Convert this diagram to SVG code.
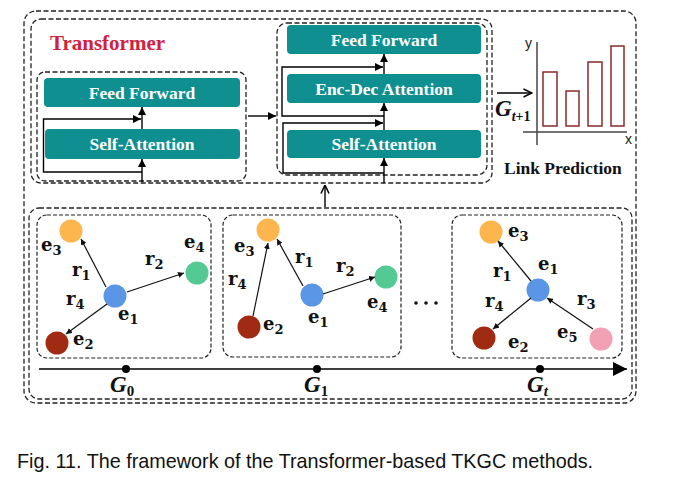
<svg xmlns="http://www.w3.org/2000/svg" width="683" height="494" viewBox="0 0 683 494">
<defs>
<style>
.dash{fill:none;stroke:#222;stroke-width:1.3;stroke-dasharray:5 2.5}
.dash2{fill:none;stroke:#222;stroke-width:1.2;stroke-dasharray:4 2}
.teal{fill:#0F8F8F}
.tt{font-family:"Liberation Serif",serif;font-weight:bold;font-size:17.5px;fill:#fff;text-anchor:middle}
.flow{fill:none;stroke:#000;stroke-width:1.4}
.edge{fill:none;stroke:#111;stroke-width:1.2}
.lab{font-family:"DejaVu Serif",serif;font-weight:bold;font-size:18px;fill:#111}
.sub{font-size:13px}
.gl{font-family:"Liberation Serif",serif;font-weight:bold;font-style:italic;font-size:23px;fill:#111}
.gs{font-style:normal;font-size:15px}
.bar{fill:#fff;stroke:#8B2A2A;stroke-width:1.5}
</style>
<marker id="ah" viewBox="0 0 10 10" refX="10" refY="5" markerWidth="8" markerHeight="8" markerUnits="userSpaceOnUse" orient="auto"><path d="M0,0 L10,5 L0,10 z" fill="#000"/></marker>
<marker id="ahs" viewBox="0 0 10 10" refX="10" refY="5" markerWidth="6" markerHeight="6" markerUnits="userSpaceOnUse" orient="auto"><path d="M0,0 L10,5 L0,10 z" fill="#111"/></marker>
<marker id="ahl" viewBox="0 0 10 10" refX="10" refY="5" markerWidth="15" markerHeight="14" markerUnits="userSpaceOnUse" orient="auto"><path d="M0,0 L10,5 L0,10 z" fill="#000"/></marker>
<marker id="aho" viewBox="0 0 10 10" refX="9.5" refY="5" markerWidth="10" markerHeight="10" markerUnits="userSpaceOnUse" orient="auto"><path d="M1,1 L9.5,5 L1,9" fill="none" stroke="#000" stroke-width="1.5"/></marker>
</defs>
<rect width="683" height="494" fill="#fff"/>

<g id="outer"><rect class="dash" x="24" y="11" width="612" height="392" rx="12"/></g>

<g id="transformer">
<rect class="dash" x="31" y="19" width="461" height="164" rx="10"/>
<text x="50" y="50" font-family="Liberation Serif,serif" font-weight="bold" font-size="21" fill="#D3203F">Transformer</text>
</g>

<g id="encoder">
<rect class="dash" x="37" y="72" width="209" height="109" rx="8"/>
<g id="enc-ff"><rect class="teal" x="44" y="78" width="196" height="29" rx="4"/><text class="tt" x="142" y="99">Feed Forward</text></g>
<g id="enc-sa"><rect class="teal" x="45" y="129" width="195" height="30" rx="4"/><text class="tt" x="142" y="150">Self-Attention</text></g>
</g>

<g id="decoder">
<rect class="dash" x="277" y="23" width="210" height="152" rx="10"/>
<g id="dec-ff"><rect class="teal" x="287" y="25" width="194" height="29" rx="4"/><text class="tt" x="384" y="46">Feed Forward</text></g>
<g id="dec-ed"><rect class="teal" x="287" y="74" width="194" height="29" rx="4"/><text class="tt" x="384" y="95">Enc-Dec Attention</text></g>
<g id="dec-sa"><rect class="teal" x="287" y="130" width="194" height="28" rx="4"/><text class="tt" x="384" y="150">Self-Attention</text></g>
</g>

<g id="chart">
<line x1="537" y1="42" x2="537" y2="145" stroke="#444" stroke-width="1.5"/>
<line x1="523" y1="132" x2="627" y2="132" stroke="#444" stroke-width="1.5"/>
<text x="525" y="48" font-family="Liberation Sans,sans-serif" font-size="14" fill="#222">y</text>
<text x="625" y="144" font-family="Liberation Sans,sans-serif" font-size="14" fill="#222">x</text>
<rect class="bar" x="543" y="72" width="14" height="54"/>
<rect class="bar" x="566" y="91" width="13" height="35"/>
<rect class="bar" x="588" y="62" width="14" height="64"/>
<rect class="bar" x="611" y="46" width="13" height="80"/>
<text x="504" y="174" font-family="Liberation Serif,serif" font-weight="bold" font-size="17.5" fill="#111">Link Prediction</text>
<text class="gl" x="495" y="116" font-size="19">G<tspan font-size="14" dy="5">t</tspan><tspan font-size="14" font-style="normal">+1</tspan></text>
</g>

<g id="graphs">
<rect class="dash" x="29" y="208" width="603" height="191" rx="10"/>
</g>

<g id="G0">
<rect class="dash2" x="37" y="215" width="174" height="143" rx="10"/>
<circle cx="71" cy="231" r="11.5" fill="#FDB54E"/>
<circle cx="197" cy="273" r="11.5" fill="#55C994"/>
<circle cx="115" cy="296" r="11.5" fill="#5B95E5"/>
<circle cx="57" cy="343" r="11.5" fill="#A12A12"/>
<line class="edge" x1="106" y1="287" x2="81" y2="239" marker-end="url(#ahs)"/>
<line class="edge" x1="127" y1="292" x2="184" y2="273" marker-end="url(#ahs)"/>
<line class="edge" x1="107" y1="304" x2="66" y2="334" marker-end="url(#ahs)"/>
<text class="lab" x="41" y="251">e<tspan class="sub" dy="4">3</tspan></text>
<text class="lab" x="72" y="276">r<tspan class="sub" dy="4">1</tspan></text>
<text class="lab" x="145" y="265">r<tspan class="sub" dy="4">2</tspan></text>
<text class="lab" x="184" y="248">e<tspan class="sub" dy="4">4</tspan></text>
<text class="lab" x="66" y="305">r<tspan class="sub" dy="4">4</tspan></text>
<text class="lab" x="118" y="320">e<tspan class="sub" dy="4">1</tspan></text>
<text class="lab" x="73" y="345">e<tspan class="sub" dy="4">2</tspan></text>
</g>

<g id="G1">
<rect class="dash2" x="223" y="215" width="178" height="142" rx="10"/>
<circle cx="268" cy="230" r="11.5" fill="#FDB54E"/>
<circle cx="386" cy="277" r="11.5" fill="#55C994"/>
<circle cx="312" cy="295" r="11.5" fill="#5B95E5"/>
<circle cx="249" cy="327" r="11.5" fill="#A12A12"/>
<line class="edge" x1="253" y1="316" x2="268" y2="243" marker-end="url(#ahs)"/>
<line class="edge" x1="303" y1="286" x2="277" y2="239" marker-end="url(#ahs)"/>
<line class="edge" x1="323" y1="294" x2="375" y2="277" marker-end="url(#ahs)"/>
<text class="lab" x="234" y="252">e<tspan class="sub" dy="4">3</tspan></text>
<text class="lab" x="228" y="285">r<tspan class="sub" dy="4">4</tspan></text>
<text class="lab" x="295" y="263">r<tspan class="sub" dy="4">1</tspan></text>
<text class="lab" x="336" y="272">r<tspan class="sub" dy="4">2</tspan></text>
<text class="lab" x="367" y="308">e<tspan class="sub" dy="4">4</tspan></text>
<text class="lab" x="308" y="323">e<tspan class="sub" dy="4">1</tspan></text>
<text class="lab" x="263" y="330">e<tspan class="sub" dy="4">2</tspan></text>
</g>

<g id="ellipsis">
<circle cx="416" cy="303" r="1.8" fill="#111"/>
<circle cx="426" cy="303" r="1.8" fill="#111"/>
<circle cx="436" cy="303" r="1.8" fill="#111"/>
</g>

<g id="Gt">
<rect class="dash2" x="452" y="215" width="170" height="143" rx="10"/>
<circle cx="491" cy="232" r="11.5" fill="#FDB54E"/>
<circle cx="538" cy="290" r="11.5" fill="#5B95E5"/>
<circle cx="484" cy="338" r="11.5" fill="#A12A12"/>
<circle cx="601" cy="339" r="11.5" fill="#F2A0B3"/>
<line class="edge" x1="531" y1="281" x2="498" y2="241" marker-end="url(#ahs)"/>
<line class="edge" x1="531" y1="298" x2="493" y2="329" marker-end="url(#ahs)"/>
<line class="edge" x1="593" y1="329" x2="547" y2="298" marker-end="url(#ahs)"/>
<text class="lab" x="508" y="237">e<tspan class="sub" dy="4">3</tspan></text>
<text class="lab" x="538" y="270">e<tspan class="sub" dy="4">1</tspan></text>
<text class="lab" x="493" y="277">r<tspan class="sub" dy="4">1</tspan></text>
<text class="lab" x="485" y="307">r<tspan class="sub" dy="4">4</tspan></text>
<text class="lab" x="577" y="305">r<tspan class="sub" dy="4">3</tspan></text>
<text class="lab" x="557" y="338">e<tspan class="sub" dy="4">5</tspan></text>
<text class="lab" x="508" y="348">e<tspan class="sub" dy="4">2</tspan></text>
</g>

<g id="timeline">
<line x1="39" y1="369" x2="627" y2="369" stroke="#000" stroke-width="1.4" marker-end="url(#ahl)"/>
<circle cx="126" cy="369" r="4" fill="#000"/>
<circle cx="317" cy="369" r="4" fill="#000"/>
<circle cx="540" cy="369" r="4" fill="#000"/>
<text class="gl" x="110" y="392">G<tspan class="gs" dy="4">0</tspan></text>
<text class="gl" x="304" y="392">G<tspan class="gs" dy="4">1</tspan></text>
<text class="gl" x="527" y="392">G<tspan font-size="15" dy="4">t</tspan></text>
</g>

<g id="connectors">
<line class="flow" x1="142" y1="182" x2="142" y2="159" marker-end="url(#ah)"/>
<path class="flow" d="M142,172 H43.5 V119 H141" marker-end="url(#ah)"/>
<line class="flow" x1="142" y1="129" x2="142" y2="107" marker-end="url(#ah)"/>
<line class="flow" x1="384" y1="183" x2="384" y2="158" marker-end="url(#ah)"/>
<path class="flow" d="M384,173 H283 V123 H383" marker-end="url(#ah)"/>
<line class="flow" x1="384" y1="130" x2="384" y2="103" marker-end="url(#ah)"/>
<path class="flow" d="M384,116 H282 V67 H383" marker-end="url(#ah)"/>
<line class="flow" x1="384" y1="74" x2="384" y2="54" marker-end="url(#ah)"/>
<line class="flow" x1="248" y1="116" x2="276" y2="116" marker-end="url(#ah)"/>
<line class="flow" x1="325" y1="207" x2="325" y2="185" marker-end="url(#aho)"/>
<line class="flow" x1="497" y1="93" x2="532" y2="93" marker-end="url(#aho)"/>
</g>

<text x="17" y="468" font-family="Liberation Sans,Arial,sans-serif" font-size="19.8" fill="#111">Fig. 11. The framework of the Transformer-based TKGC methods.</text>
</svg>
